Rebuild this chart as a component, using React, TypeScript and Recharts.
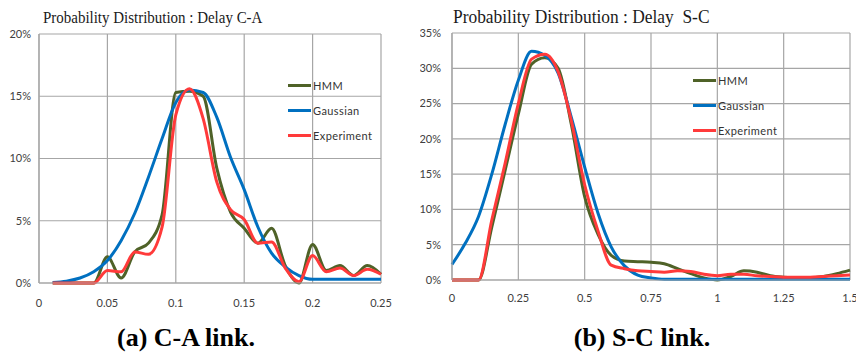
import { LineChart, Line, XAxis, YAxis, CartesianGrid } from "recharts";

// (a) C-A link: delay (s) vs probability (%)
const caX = [0.01, 0.02, 0.03, 0.04, 0.05, 0.06, 0.07, 0.08, 0.09, 0.1, 0.11, 0.12, 0.13, 0.14, 0.15, 0.16, 0.17, 0.18, 0.19, 0.2, 0.21, 0.22, 0.23, 0.24, 0.25];
const caHmm = [0, 0, 0, 0, 2.1, 0.4, 2.5, 3.2, 5.5, 15.3, 15.4, 15.0, 9.2, 5.7, 4.4, 3.2, 4.4, 1.4, 0, 3.1, 1.0, 1.4, 0.6, 1.4, 0.7];
const caGauss = [0.05, 0.15, 0.4, 0.9, 1.8, 3.4, 5.6, 8.5, 11.6, 14.5, 15.5, 15.3, 13.3, 10.1, 7.5, 4.5, 2.4, 1.3, 0.6, 0.3, 0.3, 0.3, 0.3, 0.3, 0.3];
const caExp = [0, 0, 0, 0, 1.0, 0.9, 2.5, 2.3, 4.5, 13.5, 15.6, 13.2, 8.1, 5.9, 5.1, 3.2, 3.3, 1.2, 0.1, 2.2, 0.9, 1.2, 0.6, 1.1, 0.7];
const caXTicks = [0, 0.05, 0.1, 0.15, 0.2, 0.25];
const caYTicks = [0, 5, 10, 15, 20];

// (b) S-C link
const scX = [0, 0.05, 0.1, 0.15, 0.2, 0.25, 0.3, 0.35, 0.4, 0.45, 0.5, 0.55, 0.6, 0.65, 0.7, 0.75, 0.8, 0.85, 0.9, 0.95, 1.0, 1.05, 1.1, 1.15, 1.2, 1.25, 1.3, 1.35, 1.4, 1.45, 1.5];
const scHmm = [0, 0, 0, 7.5, 15.5, 23.5, 30.6, 31.5, 30, 22, 11.8, 6.5, 3.5, 2.7, 2.6, 2.5, 2.3, 1.6, 0.9, 0.3, 0, 0.5, 1.3, 1.1, 0.6, 0.4, 0.3, 0.3, 0.5, 0.9, 1.4];
const scGauss = [2.2, 5.2, 9, 15, 22, 28.3, 32.4, 31.8, 29.3, 23, 16, 9.5, 4.7, 2, 0.7, 0.3, 0.1, 0.1, 0.1, 0.1, 0.1, 0.1, 0.1, 0.1, 0.1, 0.1, 0.1, 0.1, 0.1, 0.1, 0.1];
const scExp = [0, 0, 0, 8.5, 16.5, 25, 31.3, 32, 29.5, 22.5, 13.5, 7, 2.1, 1.6, 1.3, 1.2, 1.1, 1.3, 1.2, 0.8, 0.6, 0.8, 0.8, 0.6, 0.5, 0.4, 0.4, 0.4, 0.5, 0.6, 0.7];
const scXTicks = [0, 0.25, 0.5, 0.75, 1, 1.25, 1.5];
const scYTicks = [0, 5, 10, 15, 20, 25, 30, 35];

const SERIES = [
  { key: "hmm", name: "HMM", color: "#4f6228" },
  { key: "gauss", name: "Gaussian", color: "#0070c0" },
  { key: "exp", name: "Experiment", color: "#ff3a3a" },
];

const GRID = "#a6a6a6";
const TICK = { fill: "#404040", fontSize: 11, fontFamily: "Lato" };

function rows(xs: number[], hmm: number[], gauss: number[], exp: number[]) {
  return xs.map((x, i) => ({ x, hmm: hmm[i], gauss: gauss[i], exp: exp[i] }));
}

interface PanelProps {
  left: number;
  width: number;
  data: { x: number }[];
  xTicks: number[];
  yTicks: number[];
  yAxisWidth: number;
  margin: { top: number; right: number; bottom: number; left: number };
  height: number;
  xTickMargin: number;
  yTickMargin: number;
  legend: { x: number; y: number };
}

function Panel(p: PanelProps) {
  return (
    <div style={{ position: "absolute", left: p.left, top: 0, width: p.width, height: p.height }}>
      <LineChart width={p.width} height={p.height} data={p.data} margin={p.margin}>
        <CartesianGrid stroke={GRID} strokeWidth={1.2} />
        <XAxis
          dataKey="x"
          type="number"
          domain={[p.xTicks[0], p.xTicks[p.xTicks.length - 1]]}
          ticks={p.xTicks}
          tick={TICK}
          tickLine={false}
          tickMargin={p.xTickMargin}
          axisLine={{ stroke: GRID, strokeWidth: 1.2 }}
          height={32}
          interval={0}
        />
        <YAxis
          type="number"
          domain={[0, p.yTicks[p.yTicks.length - 1]]}
          ticks={p.yTicks}
          tick={TICK}
          tickLine={false}
          tickMargin={p.yTickMargin}
          axisLine={{ stroke: GRID, strokeWidth: 1.2 }}
          width={p.yAxisWidth}
          tickFormatter={(v: number) => `${v}%`}
          interval={0}
        />
        {SERIES.map((s) => (
          <Line
            key={s.key}
            dataKey={s.key}
            name={s.name}
            type="monotone"
            stroke={s.color}
            strokeWidth={3}
            dot={false}
            isAnimationActive={false}
          />
        ))}
      </LineChart>
      {SERIES.map((s, i) => (
        <div
          key={s.key}
          style={{ position: "absolute", left: p.legend.x, top: p.legend.y + i * 25 - 7, height: 14, display: "flex", alignItems: "center" }}
        >
          <span style={{ display: "inline-block", width: 23, height: 3, background: s.color }} />
          <span style={{ marginLeft: 2, fontFamily: "Lato", fontSize: 11, color: "#333", letterSpacing: 0.4 }}>{s.name}</span>
        </div>
      ))}
    </div>
  );
}

const titleStyle = {
  position: "absolute" as const,
  fontFamily: "Liberation Serif",
  color: "#1a1a1a",
  whiteSpace: "pre" as const,
  transformOrigin: "left center",
  lineHeight: "20px",
};

const captionStyle = {
  position: "absolute" as const,
  top: 323,
  width: 240,
  textAlign: "center" as const,
  fontFamily: "Liberation Serif",
  fontWeight: "bold" as const,
  fontSize: 26,
  lineHeight: "30px",
  color: "#000",
};

export default function App() {
  return (
    <div style={{ position: "fixed", left: 0, top: 0, width: 856, height: 356, background: "#fff", overflow: "hidden" }}>
      <div style={{ ...titleStyle, left: 43, top: 8, fontSize: 17, transform: "scaleX(0.88)" }}>
        Probability Distribution : Delay C-A
      </div>
      <div style={{ ...titleStyle, left: 453, top: 7, fontSize: 18.5, transform: "scaleX(0.94)" }}>
        {"Probability Distribution : Delay  S-C"}
      </div>
      <Panel
        left={0}
        width={420}
        height={315}
        data={rows(caX, caHmm, caGauss, caExp)}
        xTicks={caXTicks}
        yTicks={caYTicks}
        yAxisWidth={39}
        margin={{ top: 34, right: 39, bottom: 0, left: 0 }}
        xTickMargin={10}
        yTickMargin={2}
        legend={{ x: 288, y: 85 }}
      />
      <Panel
        left={420}
        width={436}
        height={312}
        data={rows(scX, scHmm, scGauss, scExp)}
        xTicks={scXTicks}
        yTicks={scYTicks}
        yAxisWidth={32}
        margin={{ top: 33, right: 6, bottom: 0, left: 0 }}
        xTickMargin={8}
        yTickMargin={5}
        legend={{ x: 273, y: 80 }}
      />
      <div style={{ ...captionStyle, left: 66 }}>(a) C-A link.</div>
      <div style={{ ...captionStyle, left: 522 }}>(b) S-C link.</div>
    </div>
  );
}
